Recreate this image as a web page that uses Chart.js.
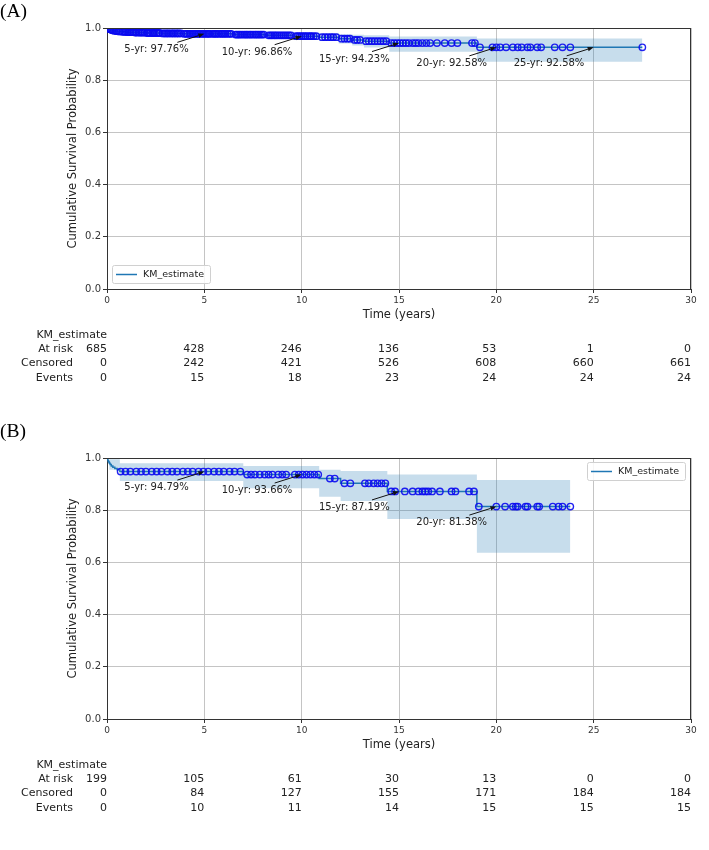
<!DOCTYPE html>
<html>
<head>
<meta charset="utf-8">
<script src="https://cdn.jsdelivr.net/npm/chart.js@4.4.0/dist/chart.umd.min.js"></script>
<style>
  html, body { margin: 0; padding: 0; background: #fff; }
  body { width: 709px; height: 850px; position: relative; overflow: hidden; }
  canvas { position: absolute; left: 0; }
  #chartA { top: 0; }
  #chartB { top: 420px; }
</style>
</head>
<body>
<canvas id="chartA" width="709" height="420"></canvas>
<canvas id="chartB" width="709" height="430"></canvas>
<script>
// --- DONNÉES ---

const ticksX = [0, 5, 10, 15, 20, 25, 30];
const ticksY = [0, 0.2, 0.4, 0.6, 0.8, 1.0];
const rowLabels = ['At risk', 'Censored', 'Events'];

// Panneau A
const kmTimesA = [0, 0.03, 0.06, 0.1, 0.14, 0.2, 0.26, 0.33, 0.42, 0.55, 0.75, 1.0, 1.4, 2.0, 2.8, 3.9,
    6.5, 8.2, 9.6, 10.9, 11.9, 12.6, 13.2, 14.5, 19.0, 27.5];
const kmSurvA = [1.0, 0.9985, 0.9971, 0.9956, 0.9942, 0.9927, 0.9912, 0.9898, 0.9883, 0.9868, 0.9854, 0.9839, 0.9824, 0.9809, 0.9793, 0.9776,
    0.9750, 0.9720, 0.9686, 0.9650, 0.9590, 0.9545, 0.9495, 0.9423, 0.9258, 0.9258];
const ciTimesA = [0, 0.2, 1.0, 3.9, 6.5, 9.6, 10.9, 11.9, 12.6, 13.2, 14.5, 19.0, 27.5];
const ciLowA = [1.0, 0.984, 0.974, 0.966, 0.962, 0.955, 0.950, 0.941, 0.933, 0.925, 0.909, 0.871, 0.871];
const ciHighA = [1.0, 0.998, 0.993, 0.988, 0.986, 0.982, 0.980, 0.976, 0.974, 0.972, 0.967, 0.960, 0.960];
const censorTimesA = [0.05, 0.12, 0.18, 0.24, 0.29, 0.36, 0.45, 0.5, 0.61, 0.68, 0.8, 0.87, 0.95, 1.05, 1.13, 1.22, 1.3, 1.37,
    1.45, 1.52, 1.63, 1.7, 1.78, 1.85, 1.93, 2.05, 2.12, 2.2, 2.31, 2.38, 2.46, 2.55, 2.63, 2.7, 2.86, 2.95, 3.04, 3.12,
    3.2, 3.3, 3.38, 3.45, 3.55, 3.62, 3.7, 3.8, 3.96, 4.05, 4.13, 4.22, 4.3, 4.4, 4.48, 4.56, 4.65, 4.72, 4.8, 4.9, 4.97,
    5.06, 5.15, 5.22, 5.3, 5.42, 5.5, 5.58, 5.66, 5.75, 5.85, 5.93, 6.02, 6.1, 6.2, 6.3, 6.38, 6.6, 6.68, 6.77, 6.85,
    6.95, 7.05, 7.14, 7.22, 7.32, 7.4, 7.5, 7.6, 7.68, 7.77, 7.86, 7.95, 8.05, 8.3, 8.4, 8.48, 8.58, 8.66, 8.75, 8.85,
    8.95, 9.05, 9.15, 9.25, 9.35, 9.45, 9.7, 9.8, 9.9, 10.0, 10.1, 10.2, 10.3, 10.42, 10.5, 10.62, 10.75, 11.05, 11.2,
    11.35, 11.5, 11.62, 11.78, 12.05, 12.2, 12.35, 12.48, 12.72, 12.85, 13.0, 13.3, 13.45, 13.6, 13.75, 13.9, 14.05,
    14.2, 14.35, 14.6, 14.75, 14.9, 15.05, 15.2, 15.35, 15.5, 15.7, 15.85, 16.0, 16.2, 16.4, 16.6, 16.95, 17.35, 17.7,
    18.0, 18.75, 18.9, 19.16, 19.8, 20.0, 20.2, 20.5, 20.85, 21.1, 21.3, 21.6, 21.75, 22.1, 22.3, 23.0, 23.4, 23.8, 27.5];
const annoYearsA = [5, 10, 15, 20, 25];
const annoPctA = [97.76, 96.86, 94.23, 92.58, 92.58];
const atRiskA = [685, 428, 246, 136, 53, 1, 0];
const censoredA = [0, 242, 421, 526, 608, 660, 661];
const eventsA = [0, 15, 18, 23, 24, 24, 24];

// Panneau B
const kmTimesB = [0, 0.02, 0.05, 0.08, 0.12, 0.16, 0.22, 0.3, 0.4, 0.52, 0.66, 7.0, 10.9, 12.0, 14.4, 19.0, 23.8];
const kmSurvB = [1.0, 0.9950, 0.9899, 0.9849, 0.9799, 0.9749, 0.9698, 0.9648, 0.9598, 0.9548, 0.9479,
    0.9366, 0.9210, 0.9030, 0.8719, 0.8138, 0.8138];
const ciTimesB = [0, 0.12, 0.66, 7.0, 10.9, 12.0, 14.4, 19.0, 23.8];
const ciLowB = [1.0, 0.955, 0.912, 0.884, 0.852, 0.835, 0.766, 0.637, 0.637];
const ciHighB = [1.0, 0.995, 0.980, 0.969, 0.955, 0.950, 0.937, 0.916, 0.916];
const censorTimesB = [0.7, 0.95, 1.2, 1.5, 1.75, 2.0, 2.3, 2.55, 2.8, 3.1, 3.35, 3.6, 3.9, 4.15, 4.4, 4.7, 4.95, 5.2,
    5.5, 5.75, 6.0, 6.3, 6.55, 6.85, 7.2, 7.4, 7.6, 7.85, 8.1, 8.3, 8.5, 8.8, 9.0, 9.2, 9.65, 9.85, 10.05, 10.25, 10.45,
    10.65, 10.85, 11.45, 11.7, 12.2, 12.5, 13.25, 13.45, 13.7, 13.9, 14.1, 14.3, 14.6, 14.8, 15.3, 15.7, 16.0, 16.2,
    16.35, 16.5, 16.7, 17.1, 17.7, 17.9, 18.6, 18.85, 19.1, 20.0, 20.45, 20.85, 21.0, 21.1, 21.5, 21.6, 22.1, 22.2,
    22.9, 23.2, 23.4, 23.8];
const annoYearsB = [5, 10, 15, 20];
const annoPctB = [94.79, 93.66, 87.19, 81.38];
const atRiskB = [199, 105, 61, 30, 13, 0, 0];
const censoredB = [0, 84, 127, 155, 171, 184, 184];
const eventsB = [0, 10, 11, 14, 15, 15, 15];

const FONT = '"DejaVu Sans", sans-serif';
const TEXT = '#222';

// valeur de la courbe en escalier à l'instant t
function kmAt(times, surv, t) {
    let v = surv[0];
    for (let i = 0; i < times.length; i++) {
        if (times[i] <= t) v = surv[i];
    }
    return v;
}

function toPoints(xs, ys) {
    return xs.map((x, i) => ({ x: x, y: ys[i] }));
}

// Plugin : spines, annotations, légende, titres, tableau des effectifs
const kmExtras = {
    id: 'kmExtras',
    afterDatasetsDraw(chart, args, opts) {
        const ctx = chart.ctx;
        const area = chart.chartArea;
        const xs = chart.scales.x;
        const ys = chart.scales.y;
        ctx.save();

        // cadre haut et droit
        ctx.strokeStyle = '#333';
        ctx.lineWidth = 1;
        ctx.beginPath();
        ctx.moveTo(area.left, area.top + 0.5);
        ctx.lineTo(area.right, area.top + 0.5);
        ctx.moveTo(area.right - 0.5, area.top);
        ctx.lineTo(area.right - 0.5, area.bottom);
        ctx.stroke();

        // annotations n-yr avec flèche
        ctx.font = '10px ' + FONT;
        ctx.textBaseline = 'middle';
        ctx.textAlign = 'left';
        opts.annoYears.forEach((yr, i) => {
            const px = xs.getPixelForValue(yr);
            const py = ys.getPixelForValue(opts.annoPct[i] / 100);
            const tx = px - 27, ty = py + 8.5;
            const ang = Math.atan2(py - ty, px - tx);
            const hl = 6, hw = 2.3;
            const bx = px - hl * Math.cos(ang), by = py - hl * Math.sin(ang);
            ctx.strokeStyle = '#111';
            ctx.fillStyle = '#111';
            ctx.lineWidth = 1;
            ctx.beginPath();
            ctx.moveTo(tx, ty);
            ctx.lineTo(bx, by);
            ctx.stroke();
            ctx.beginPath();
            ctx.moveTo(px, py);
            ctx.lineTo(bx + hw * Math.sin(ang), by - hw * Math.cos(ang));
            ctx.lineTo(bx - hw * Math.sin(ang), by + hw * Math.cos(ang));
            ctx.closePath();
            ctx.fill();
            ctx.fillStyle = TEXT;
            ctx.fillText(yr + '-yr: ' + opts.annoPct[i].toFixed(2) + '%', px - 80, py + 16);
        });

        // légende
        const lx = opts.legendPos === 'right' ? area.right - 104 : area.left + 5;
        const ly = opts.legendPos === 'right' ? area.top + 4 : area.bottom - 24;
        ctx.fillStyle = 'rgba(255,255,255,0.85)';
        ctx.strokeStyle = '#d0d0d0';
        ctx.lineWidth = 1;
        ctx.beginPath();
        ctx.roundRect(lx + 0.5, ly + 0.5, 98, 18, 2);
        ctx.fill();
        ctx.stroke();
        ctx.strokeStyle = '#1f77b4';
        ctx.lineWidth = 1.5;
        ctx.beginPath();
        ctx.moveTo(lx + 4, ly + 9.5);
        ctx.lineTo(lx + 25, ly + 9.5);
        ctx.stroke();
        ctx.fillStyle = TEXT;
        ctx.font = '9.5px ' + FONT;
        ctx.fillText('KM_estimate', lx + 31, ly + 9.5);

        // titres des axes
        ctx.font = '11.5px ' + FONT;
        ctx.textAlign = 'center';
        ctx.fillText('Time (years)', (area.left + area.right) / 2, area.bottom + 26);
        ctx.save();
        ctx.translate(area.left - 34, (area.top + area.bottom) / 2);
        ctx.rotate(-Math.PI / 2);
        ctx.fillText('Cumulative Survival Probability', 0, 0);
        ctx.restore();

        // tableau des effectifs
        ctx.font = '11px ' + FONT;
        ctx.textAlign = 'right';
        ctx.fillText('KM_estimate', xs.getPixelForValue(0), area.bottom + 46);
        const rows = [opts.atRisk, opts.censored, opts.events];
        rows.forEach((vals, r) => {
            const y = area.bottom + 60 + r * 14.6;
            ctx.fillText(rowLabels[r], area.left - 34, y);
            vals.forEach((v, i) => {
                ctx.fillText(String(v), xs.getPixelForValue(ticksX[i]), y);
            });
        });

        // étiquette du panneau
        ctx.font = '19.5px "Liberation Serif", serif';
        ctx.textAlign = 'left';
        ctx.textBaseline = 'alphabetic';
        ctx.fillStyle = '#000';
        ctx.fillText(opts.label, 0, 17);

        ctx.restore();
    }
};

function makePanel(canvasId, p) {
    const ctx = document.getElementById(canvasId).getContext('2d');
    const censorPts = p.censorTimes.map(t => ({ x: t, y: kmAt(p.kmTimes, p.kmSurv, t) }));
    return new Chart(ctx, {
        type: 'scatter',
        data: {
            datasets: [
                {
                    label: 'censored',
                    data: censorPts,
                    pointStyle: 'circle',
                    pointRadius: 3.2,
                    pointBorderWidth: 1.4,
                    pointBorderColor: 'rgba(10,10,240,0.9)',
                    pointBackgroundColor: 'rgba(0,0,0,0)',
                    order: 0
                },
                {
                    label: 'KM_estimate',
                    data: toPoints(p.kmTimes, p.kmSurv),
                    showLine: true,
                    stepped: true,
                    borderColor: '#1f77b4',
                    borderWidth: 1.5,
                    pointRadius: 0,
                    order: 1
                },
                {
                    label: 'ci_upper',
                    data: toPoints(p.ciTimes, p.ciHigh),
                    showLine: true,
                    stepped: true,
                    borderWidth: 0,
                    borderColor: 'rgba(0,0,0,0)',
                    pointRadius: 0,
                    fill: '+1',
                    backgroundColor: 'rgba(31,119,180,0.25)',
                    order: 2
                },
                {
                    label: 'ci_lower',
                    data: toPoints(p.ciTimes, p.ciLow),
                    showLine: true,
                    stepped: true,
                    borderWidth: 0,
                    borderColor: 'rgba(0,0,0,0)',
                    pointRadius: 0,
                    fill: false,
                    order: 3
                }
            ]
        },
        options: {
            responsive: false,
            animation: false,
            devicePixelRatio: 1,
            layout: { padding: { left: 0, right: 18, top: p.padTop, bottom: 0 } },
            plugins: {
                legend: { display: false },
                tooltip: { enabled: false },
                kmExtras: p
            },
            scales: {
                x: {
                    type: 'linear',
                    min: 0,
                    max: 30,
                    afterBuildTicks: s => { s.ticks = ticksX.map(v => ({ value: v })); },
                    afterFit: s => { s.height = 131; },
                    ticks: { font: { family: FONT, size: 9 }, color: '#333', padding: 2, maxRotation: 0 },
                    grid: { color: '#c4c4c4', lineWidth: 1, tickLength: 4, tickColor: '#333' },
                    border: { color: '#333', width: 1 }
                },
                y: {
                    min: 0,
                    max: 1,
                    afterBuildTicks: s => { s.ticks = ticksY.map(v => ({ value: v })); },
                    afterFit: s => { s.width = 107; },
                    ticks: {
                        font: { family: FONT, size: 10 },
                        color: '#333',
                        padding: 2,
                        callback: v => Number(v).toFixed(1)
                    },
                    grid: { color: '#c4c4c4', lineWidth: 1, tickLength: 4, tickColor: '#333' },
                    border: { color: '#333', width: 1 }
                }
            }
        },
        plugins: [kmExtras]
    });
}

makePanel('chartA', {
    label: '(A)', padTop: 28, legendPos: 'left',
    kmTimes: kmTimesA, kmSurv: kmSurvA,
    ciTimes: ciTimesA, ciLow: ciLowA, ciHigh: ciHighA,
    censorTimes: censorTimesA,
    annoYears: annoYearsA, annoPct: annoPctA,
    atRisk: atRiskA, censored: censoredA, events: eventsA
});

makePanel('chartB', {
    label: '(B)', padTop: 38, legendPos: 'right',
    kmTimes: kmTimesB, kmSurv: kmSurvB,
    ciTimes: ciTimesB, ciLow: ciLowB, ciHigh: ciHighB,
    censorTimes: censorTimesB,
    annoYears: annoYearsB, annoPct: annoPctB,
    atRisk: atRiskB, censored: censoredB, events: eventsB
});
</script>
</body>
</html>
